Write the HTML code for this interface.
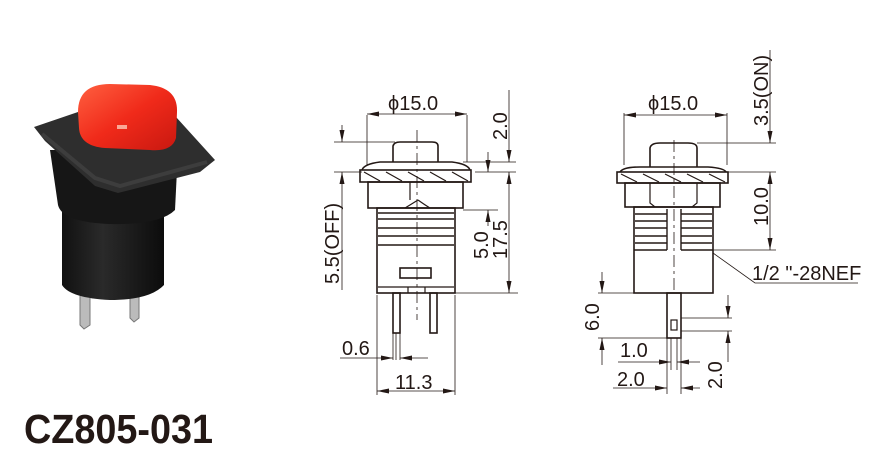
<!DOCTYPE html>
<html><head><meta charset="utf-8"><style>
html,body{margin:0;padding:0;background:#fff;width:876px;height:456px;overflow:hidden}
svg{display:block}
text{font-family:"Liberation Sans",Arial,sans-serif;fill:#231815}
</style></head><body>
<svg width="876" height="456" viewBox="0 0 876 456" xmlns="http://www.w3.org/2000/svg">
<defs>
<marker id="a" viewBox="0 0 12 5" refX="12" refY="2.5" markerWidth="12" markerHeight="5" orient="auto-start-reverse" markerUnits="userSpaceOnUse"><path d="M0,0 L12,2.5 L0,5z" fill="#231815"/></marker>
<linearGradient id="red" x1="0" y1="0" x2="1" y2="1"><stop offset="0" stop-color="#ff6040"/><stop offset="0.5" stop-color="#f02a1a"/><stop offset="1" stop-color="#c81810"/></linearGradient>
<linearGradient id="blk" x1="0" y1="0" x2="1" y2="0"><stop offset="0" stop-color="#111"/><stop offset="0.4" stop-color="#2a2a2a"/><stop offset="1" stop-color="#0c0c0c"/></linearGradient>
</defs>

<!-- Photo -->
<g>
<path d="M80,290 L90,290 L90,325 L84,329 L80,325z" fill="#bbb" stroke="#777"/>
<path d="M130,290 L139,290 L139,318 L134,322 L130,318z" fill="#bbb" stroke="#777"/>
<path d="M62,205 L164,205 L164,285 Q150,300 110,300 Q70,298 62,285z" fill="url(#blk)"/>
<path d="M50,150 L178,150 L175,210 Q160,225 110,224 Q62,222 58,205z" fill="#161616"/>
<path d="M34,127 L78,112 L176,117 L215,160 L200,172 L118,193 L95,186 L45,141z" fill="#2e2e2e"/>
<path d="M42,134 L95,178 L120,186 L207,162" fill="none" stroke="#3d3d3d" stroke-width="4"/>
<path d="M78,112 Q78,84 110,84 L150,85 Q178,88 177,112 L176,138 Q172,152 150,150 L105,148 Q80,146 79,128z" fill="url(#red)"/>
<rect x="117" y="125" width="10" height="4" fill="#fdc" opacity="0.7"/>
<text x="24" y="443" font-size="41" font-weight="bold" textLength="189" lengthAdjust="spacingAndGlyphs">CZ805-031</text>
</g>

<!-- Left drawing -->
<g stroke="#231815" fill="none" stroke-width="1.6">
<path d="M393,162 L393,146 Q394,142 400,142 L432,142 Q438,142 438,146 L438,162"/>
<path d="M362,170 Q364,164 380,162 L452,162 Q468,164 470,170"/>
<rect x="360" y="170" width="111" height="12"/>
<path d="M364,172 L380,181 M386,172 L402,181 M408,172 L424,181 M430,172 L446,181 M452,172 L468,181" stroke-width="1.2"/>
<rect x="368" y="182" width="95" height="26"/>
<path d="M410,182 L410,200 M418,200 Q410,205 405,208 M418,200 Q425,205 430,208" stroke-width="1.2"/>
<rect x="377" y="208" width="78" height="85"/>
<path d="M378,213 L454,213 M378,219 L454,219 M378,228 L454,228 M378,236 L454,236 M378,245 L454,245" stroke-width="1.4"/>
<rect x="400" y="268" width="31" height="10"/>
<path d="M378,287 L454,287 M408,287 L408,293 M425,287 L425,293" stroke-width="1.2"/>
<rect x="393" y="293" width="7" height="40"/>
<rect x="430" y="293" width="7" height="40"/>
</g>
<g stroke="#231815" stroke-width="0.8" fill="none">
<path d="M417,130 L417,320" stroke-dasharray="12,4,3,4"/>
<path d="M367,115 L367,165 M467,115 L467,162"/>
<path d="M367,114 L467,114" marker-start="url(#a)" marker-end="url(#a)"/>
<path d="M334,142 L395,142 M334,172 L362,172"/>
<path d="M342,125 L342,142" marker-end="url(#a)"/>
<path d="M342,172 L342,290" marker-start="url(#a)"/>
<path d="M463,162 L516,162 M475,172 L516,172 M463,210 L498,210 M455,293 L518,293"/>
<path d="M509,90 L509,162" marker-end="url(#a)"/>
<path d="M509,172 L509,293" marker-start="url(#a)" marker-end="url(#a)"/>
<path d="M488,152 L488,172" marker-end="url(#a)"/>
<path d="M488,210 L488,226" marker-start="url(#a)"/>
<path d="M377,295 L377,395 M455,295 L455,395 M393,333 L393,360 M400,333 L400,360 M396,333 L396,360"/>
<path d="M340,358 L393,358" marker-end="url(#a)"/>
<path d="M400,358 L428,358" marker-start="url(#a)"/>
<path d="M377,391 L455,391" marker-start="url(#a)" marker-end="url(#a)"/>
</g>
<g font-size="20">
<text x="388" y="110">ϕ15.0</text>
<text transform="translate(507,140) rotate(-90)">2.0</text>
<text transform="translate(339,284) rotate(-90)">5.5(OFF)</text>
<text transform="translate(488,259) rotate(-90)">5.0</text>
<text transform="translate(507,259) rotate(-90)">17.5</text>
<text x="342" y="355">0.6</text>
<text x="395" y="389">11.3</text>
</g>

<!-- Right drawing -->
<g stroke="#231815" fill="none" stroke-width="1.6">
<path d="M650,167 L650,148 Q651,143 660,143 L688,143 Q697,143 697,148 L697,167"/>
<path d="M620,172 Q623,167 640,167 L708,167 Q724,168 726,172"/>
<rect x="617" y="172" width="111" height="11"/>
<path d="M621,174 L637,182 M643,174 L659,182 M665,174 L681,182 M687,174 L703,182 M709,174 L725,182" stroke-width="1.2"/>
<rect x="625" y="183" width="95" height="24"/>
<path d="M650,183 L650,203 L655,207 M697,183 L697,203 L692,207" stroke-width="1.2"/>
<rect x="634" y="207" width="79" height="86"/>
<path d="M667,209 L667,250 M681,209 L681,250 M634,250 L667,250 M681,250 L713,250" stroke-width="1.4"/>
<path d="M635,214 L667,214 M635,221 L667,221 M635,228 L667,228 M635,236 L667,236 M635,243 L667,243 M681,214 L712,214 M681,221 L712,221 M681,228 L712,228 M681,236 L712,236 M681,243 L712,243" stroke-width="1.4"/>
<rect x="667" y="293" width="14" height="45"/>
<rect x="671" y="320" width="6" height="10" stroke-width="1.2"/>
</g>
<g stroke="#231815" stroke-width="0.8" fill="none">
<path d="M674,140 L674,290" stroke-dasharray="12,4,3,4"/>
<path d="M624,113 L624,165 M727,113 L727,165"/>
<path d="M624,115 L727,115" marker-start="url(#a)" marker-end="url(#a)"/>
<path d="M697,143 L776,143 M726,172 L776,172 M713,250 L776,250"/>
<path d="M770,50 L770,143" marker-end="url(#a)"/>
<path d="M770,172 L770,250" marker-start="url(#a)" marker-end="url(#a)"/>
<path d="M713,253 L755,283 L858,283"/>
<path d="M598,293 L634,293 M598,338 L667,338"/>
<path d="M602,272 L602,293" marker-end="url(#a)"/>
<path d="M602,338 L602,365" marker-start="url(#a)"/>
<path d="M681,318 L732,318 M681,331 L732,331"/>
<path d="M728,295 L728,318" marker-end="url(#a)"/>
<path d="M728,331 L728,362" marker-start="url(#a)"/>
<path d="M667,338 L667,394 M681,338 L681,394 M671,338 L671,370 M677,338 L677,370"/>
<path d="M618,362 L671,362" marker-end="url(#a)"/>
<path d="M677,362 L700,362" marker-start="url(#a)"/>
<path d="M613,388 L667,388" marker-end="url(#a)"/>
<path d="M681,388 L700,388" marker-start="url(#a)"/>
</g>
<g font-size="20">
<text x="648" y="110">ϕ15.0</text>
<text transform="translate(768,126) rotate(-90)">3.5(ON)</text>
<text transform="translate(768,226) rotate(-90)">10.0</text>
<text x="752" y="280">1/2 "-28NEF</text>
<text transform="translate(599,331) rotate(-90)">6.0</text>
<text x="620" y="357">1.0</text>
<text x="617" y="386">2.0</text>
<text transform="translate(722,389) rotate(-90)">2.0</text>
</g>
</svg>
</body></html>
